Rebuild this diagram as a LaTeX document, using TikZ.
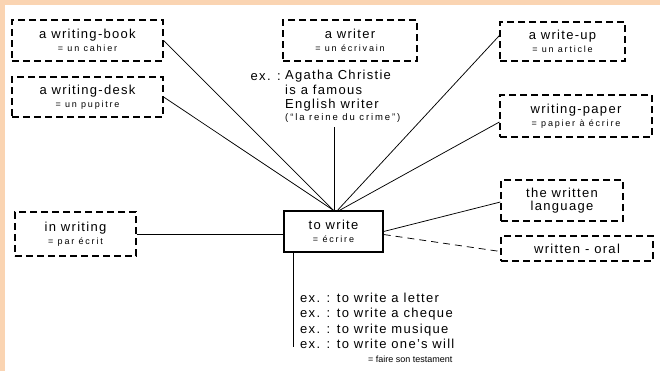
\documentclass[tikz,border=0pt]{standalone}
\usepackage{fontspec}
\newfontfamily\bigf[LetterSpace=10]{Liberation Sans}
\newfontfamily\smallf[LetterSpace=20]{Liberation Sans}
\newfontfamily\plainf{Liberation Sans}
\definecolor{peach}{RGB}{250,212,178}
\newcommand\sm[1]{{\smallf\fontsize{9bp}{10bp}\selectfont #1}}
\tikzset{
  dbox/.style={draw, dash pattern=on 7bp off 4bp, line width=1.2bp, inner sep=0pt,
    align=center, font=\bigf\fontsize{13bp}{13bp}\selectfont},
  sbox/.style={draw, line width=1.3bp, inner sep=0pt,
    align=center, font=\bigf\fontsize{13bp}{13bp}\selectfont},
  txt/.style={inner sep=0pt, align=left, font=\bigf\fontsize{13bp}{14.5bp}\selectfont},
  txtb/.style={inner sep=0pt, align=left, font=\bigf\fontsize{13bp}{15.5bp}\selectfont},
  conn/.style={line width=0.75bp},
}
\begin{document}
\begin{tikzpicture}[x=1bp,y=-1bp]
\useasboundingbox (0,0) rectangle (660,371);
\fill[peach] (0,0) rectangle (660,371);
\fill[white] (5,5) rectangle (660,371);

\node[dbox, minimum width=151bp, minimum height=41bp] (wbook) at (87.5,40.5) {a writing-book\\\sm{= un cahier}};
\node[dbox, minimum width=151bp, minimum height=40bp] (wdesk) at (87.5,97) {a writing-desk\\\sm{= un pupitre}};
\node[dbox, minimum width=134bp, minimum height=41bp] (writer) at (350,40.5) {a writer\\\sm{= un écrivain}};
\node[dbox, minimum width=125bp, minimum height=39bp] (writeup) at (562.5,41.5) {a write-up\\\sm{= un article}};
\node[dbox, minimum width=152bp, minimum height=42bp] (paper) at (576,116) {writing-paper\\\sm{= papier à écrire}};
\node[dbox, minimum width=122bp, minimum height=41bp] (wlang) at (562,200.5) {the written\\language};
\node[dbox, minimum width=152bp, minimum height=25bp] (oral) at (577,248.5) {written - oral};
\node[dbox, minimum width=121bp, minimum height=44bp] (inw) at (75.5,234) {in writing\\\sm{= par écrit}};
\node[sbox, minimum width=99bp, minimum height=41bp] (towrite) at (333.5,231.5) {to write\\\sm{= écrire}};

\node[txt, anchor=north west] (agatha) at (285,70) {Agatha Christie\\is a famous\\English writer\\[-3bp]{\smallf\fontsize{9.5bp}{10bp}\selectfont (“la reine du crime”)}};
\node[txt, anchor=base east] (agex) at (281,80) {ex. :};
\node[txtb, anchor=north west] (examples) at (300,292.5) {ex. : to write a letter\\ex. : to write a cheque\\ex. : to write musique\\ex. : to write one’s will\\[-2bp]\hspace*{68bp}{\plainf\fontsize{9bp}{10bp}\selectfont = faire son testament}};

\coordinate (agbot) at (334,127);
\coordinate (vend) at (293,347);

\draw[conn] (wbook.east) -- (towrite.north);
\draw[conn] (wdesk.east) -- (towrite.north);
\draw[conn] (agbot) -- (agbot |- towrite.north);
\draw[conn] ([yshift=6bp]writeup.west) -- ([xshift=4bp]towrite.north);
\draw[conn] ([yshift=-6bp]paper.west) -- ([xshift=6bp]towrite.north);
\draw[conn] ([yshift=-1.5bp]wlang.west) -- (towrite.east);
\draw[conn, dash pattern=on 7bp off 5bp] ([yshift=-3bp]towrite.east) -- ([yshift=-3bp]oral.west);
\draw[conn] (inw.east) -- (inw.east -| towrite.west);
\draw[conn] (vend |- towrite.south) -- (vend);
\end{tikzpicture}
\end{document}
